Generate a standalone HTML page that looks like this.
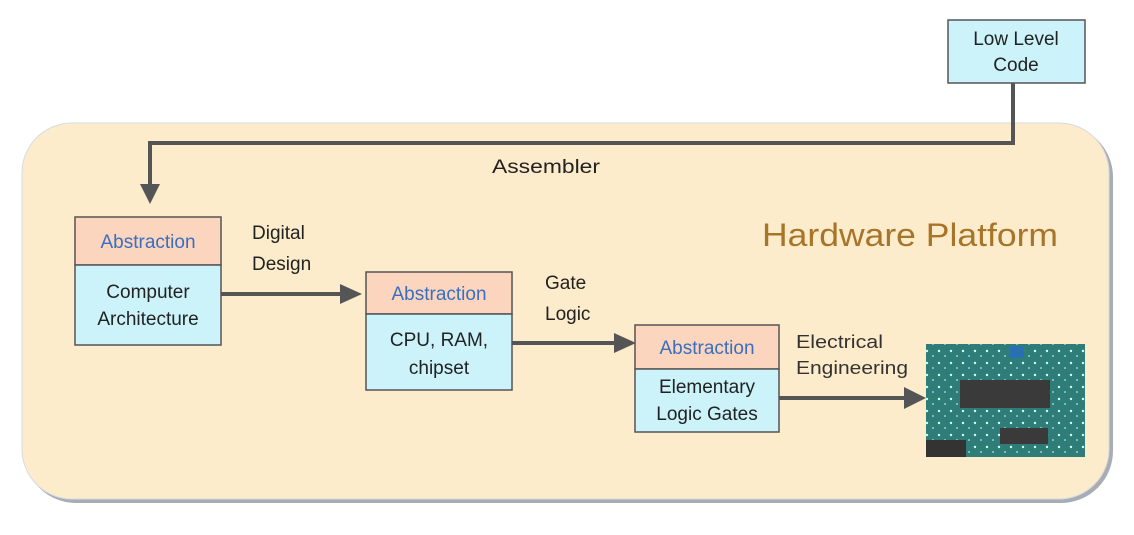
<!DOCTYPE html>
<html><head><meta charset="utf-8"><style>
body{margin:0;background:#fff;width:1134px;height:530px;overflow:hidden}
text{font-family:"Liberation Sans",sans-serif}
</style></head><body>
<svg width="1134" height="530" viewBox="0 0 1134 530" xmlns="http://www.w3.org/2000/svg">
<defs>
<pattern id="pcb" width="12" height="12" patternUnits="userSpaceOnUse">
<rect width="12" height="12" fill="#2f7d78"/>
<circle cx="3" cy="3" r="1.2" fill="#cfe"/>
<circle cx="9" cy="8" r="1" fill="#9cc"/>
</pattern>
</defs>
<rect x="24" y="125" width="1089" height="378" rx="52" fill="#a8adb4"/>
<rect x="22" y="123" width="1087" height="376" rx="50" fill="#fdeccb" stroke="#d6dbe0" stroke-width="1"/>
<rect x="948" y="20" width="137" height="63" fill="#ccf3fa" stroke="#555" stroke-width="1.5"/>
<text x="1016" y="45" font-size="19" text-anchor="middle" fill="#222">Low Level</text>
<text x="1016" y="71" font-size="19" text-anchor="middle" fill="#222">Code</text>
<polyline points="1013,83 1013,143 150,143 150,185" fill="none" stroke="#555" stroke-width="4"/>
<polygon points="140,184 160,184 150,204" fill="#555"/>
<text x="492" y="173" font-size="19" fill="#222" textLength="108" lengthAdjust="spacingAndGlyphs">Assembler</text>
<text x="762" y="246" font-size="32" fill="#a7752a" textLength="296" lengthAdjust="spacingAndGlyphs">Hardware Platform</text>
<rect x="75" y="217" width="146" height="48" fill="#fbd5bd" stroke="#555" stroke-width="1.5"/>
<rect x="75" y="265" width="146" height="80" fill="#ccf3fa" stroke="#555" stroke-width="1.5"/>
<text x="148" y="248" font-size="19" text-anchor="middle" fill="#3a6fbf">Abstraction</text>
<text x="148" y="298" font-size="19" text-anchor="middle" fill="#222">Computer</text>
<text x="148" y="325" font-size="19" text-anchor="middle" fill="#222">Architecture</text>
<text x="252" y="239" font-size="19" fill="#222">Digital</text>
<text x="252" y="270" font-size="19" fill="#222">Design</text>
<line x1="221" y1="294" x2="342" y2="294" stroke="#555" stroke-width="4"/>
<polygon points="340,284 362,294 340,304" fill="#555"/>
<rect x="366" y="272" width="146" height="42" fill="#fbd5bd" stroke="#555" stroke-width="1.5"/>
<rect x="366" y="314" width="146" height="76" fill="#ccf3fa" stroke="#555" stroke-width="1.5"/>
<text x="439" y="300" font-size="19" text-anchor="middle" fill="#3a6fbf">Abstraction</text>
<text x="439" y="346" font-size="19" text-anchor="middle" fill="#222">CPU, RAM,</text>
<text x="439" y="374" font-size="19" text-anchor="middle" fill="#222">chipset</text>
<text x="545" y="289" font-size="19" fill="#222">Gate</text>
<text x="545" y="320" font-size="19" fill="#222">Logic</text>
<line x1="512" y1="343" x2="616" y2="343" stroke="#555" stroke-width="4"/>
<polygon points="614,333 636,343 614,353" fill="#555"/>
<rect x="635" y="325" width="144" height="44" fill="#fbd5bd" stroke="#555" stroke-width="1.5"/>
<rect x="635" y="369" width="144" height="63" fill="#ccf3fa" stroke="#555" stroke-width="1.5"/>
<text x="707" y="354" font-size="19" text-anchor="middle" fill="#3a6fbf">Abstraction</text>
<text x="707" y="393" font-size="19" text-anchor="middle" fill="#222">Elementary</text>
<text x="707" y="420" font-size="19" text-anchor="middle" fill="#222">Logic Gates</text>
<text x="796" y="348" font-size="18" fill="#333" textLength="87" lengthAdjust="spacingAndGlyphs">Electrical</text>
<text x="796" y="374" font-size="18" fill="#333" textLength="112" lengthAdjust="spacingAndGlyphs">Engineering</text>
<line x1="779" y1="398" x2="906" y2="398" stroke="#555" stroke-width="4"/>
<polygon points="904,387 926,398 904,409" fill="#555"/>
<rect x="926" y="344" width="159" height="113" fill="url(#pcb)"/>
<rect x="960" y="380" width="90" height="28" fill="#3a3a3a"/>
<rect x="1000" y="428" width="48" height="16" fill="#3a3a3a"/>
<rect x="1010" y="346" width="14" height="12" fill="#2a6fb0"/>
<rect x="926" y="440" width="40" height="17" fill="#333"/>
</svg>
</body></html>
